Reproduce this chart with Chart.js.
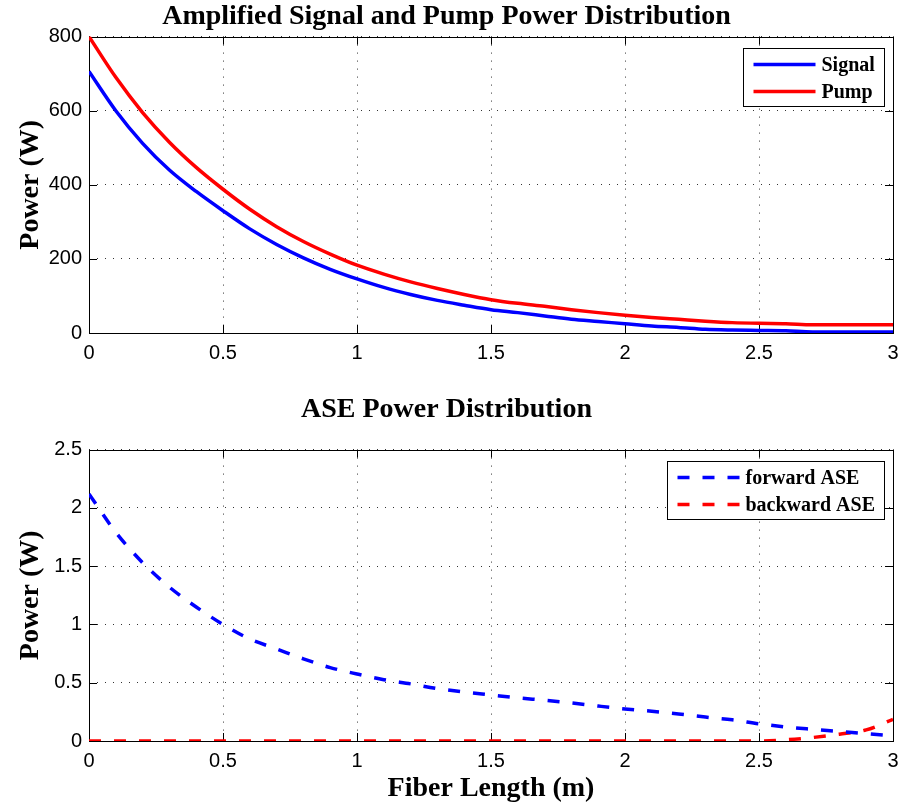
<!DOCTYPE html>
<html>
<head>
<meta charset="utf-8">
<script src="https://cdn.jsdelivr.net/npm/chart.js@4"></script>
<style>
  body { margin: 0; background: #fff; }
  canvas { display: block; }
</style>
</head>
<body>
<div id="content"></div>
<script>
// fiber position along the amplifier (m)
const fiberLength = [0, 0.1, 0.2, 0.3, 0.4, 0.5, 0.6, 0.7, 0.8, 0.9, 1.0,
  1.1, 1.2, 1.3, 1.4, 1.5, 1.6, 1.7, 1.8, 1.9, 2.0,
  2.1, 2.2, 2.3, 2.4, 2.5, 2.6, 2.7, 2.8, 2.9, 3.0];

// top plot (W)
const signalPower = [706, 600, 512, 440, 382, 330, 281, 239, 203, 172, 146,
  123, 104, 88, 75, 63, 55, 46, 37, 31, 25,
  19, 15, 10, 8, 7, 6, 3, 3, 3, 3];
const pumpPower = [800, 690, 595, 515, 447, 388, 334, 287, 247, 213, 183,
  159, 138, 120, 104, 90, 80, 72, 63, 55, 48,
  42, 37, 32, 28, 26, 25, 22, 22, 22, 22];

// bottom plot (W)
const forwardAse = [2.12, 1.79, 1.53, 1.32, 1.15, 1.0, 0.875, 0.79, 0.705, 0.63, 0.575,
  0.526, 0.49, 0.45, 0.42, 0.395, 0.37, 0.35, 0.327, 0.3, 0.275,
  0.255, 0.232, 0.205, 0.182, 0.148, 0.12, 0.1, 0.082, 0.063, 0.045];
const backwardAse = [0, 0, 0, 0, 0, 0, 0, 0, 0, 0, 0,
  0, 0, 0, 0, 0, 0, 0, 0, 0, 0,
  0, 0, 0, 0, 0, 0.01, 0.03, 0.058, 0.095, 0.185];

const xTicks = [0, 0.5, 1, 1.5, 2, 2.5, 3];

const serif = "'Liberation Serif', 'Times New Roman', serif";
const sans = "'Liberation Sans', Arial, sans-serif";

const toPoints = (ys) => fiberLength.map((x, i) => ({ x: x, y: ys[i] }));

// box around the plot area with inward tick marks (matlab look)
const frameTicks = {
  id: "frameTicks",
  beforeDatasetsDraw(chart) {
    const { ctx, chartArea, scales } = chart;
    const { left, right, top, bottom } = chartArea;
    const len = 8;
    ctx.save();
    ctx.strokeStyle = "#000";
    ctx.lineWidth = 1;
    ctx.beginPath();
    scales.x.ticks.forEach((t) => {
      const px = Math.round(scales.x.getPixelForValue(t.value)) + 0.5;
      ctx.moveTo(px, bottom);
      ctx.lineTo(px, bottom - len);
      ctx.moveTo(px, top);
      ctx.lineTo(px, top + len);
    });
    scales.y.ticks.forEach((t) => {
      const py = Math.round(scales.y.getPixelForValue(t.value)) + 0.5;
      ctx.moveTo(left, py);
      ctx.lineTo(left + len, py);
      ctx.moveTo(right, py);
      ctx.lineTo(right - len, py);
    });
    ctx.stroke();
    ctx.strokeRect(Math.round(left) + 0.5, Math.round(top) + 0.5,
      Math.round(right - left), Math.round(bottom - top));
    ctx.restore();
  },
};

// legend box in the upper right corner of the plot
const boxLegend = {
  id: "boxLegend",
  afterDraw(chart) {
    const { ctx, chartArea } = chart;
    const sets = chart.data.datasets;
    ctx.save();
    ctx.font = "bold 20px " + serif;
    const textW = Math.max(...sets.map((d) => ctx.measureText(d.label).width));
    const sample = 62;
    const rowH = 27;
    const w = Math.round(10 + sample + 6 + textW + 10);
    const h = rowH * sets.length + 4;
    const x0 = Math.round(chartArea.right - 9 - w) + 0.5;
    const y0 = Math.round(chartArea.top + 11) + 0.5;
    ctx.fillStyle = "#fff";
    ctx.fillRect(x0, y0, w, h);
    ctx.strokeStyle = "#000";
    ctx.lineWidth = 1;
    ctx.strokeRect(x0, y0, w, h);
    sets.forEach((d, i) => {
      const cy = y0 + 16 + i * rowH;
      ctx.strokeStyle = d.borderColor;
      ctx.lineWidth = d.borderWidth;
      ctx.setLineDash(d.borderDash || []);
      ctx.beginPath();
      ctx.moveTo(x0 + 10, cy);
      ctx.lineTo(x0 + 10 + sample, cy);
      ctx.stroke();
      ctx.setLineDash([]);
      ctx.fillStyle = "#000";
      ctx.textBaseline = "middle";
      ctx.textAlign = "left";
      ctx.fillText(d.label, x0 + 10 + sample + 6, cy + 1);
    });
    ctx.restore();
  },
};

const makeChart = (canvas, cfg) => {
  const xScale = {
    type: "linear",
    min: 0,
    max: 3,
    afterBuildTicks: (s) => { s.ticks = xTicks.map((v) => ({ value: v })); },
    afterFit: (s) => {
      s.height = cfg.xHeight;
      // keep the plot box edges where the reference has them
      s.paddingLeft = 0;
      s.paddingRight = 0;
    },
    ticks: {
      color: "#000",
      font: { family: sans, size: 20 },
      padding: 8,
      maxRotation: 0,
      callback: (v) => String(v),
    },
    grid: { color: "#333", lineWidth: 1, drawTicks: false },
    border: { display: false, dash: [1, 7] },
    title: {
      display: !!cfg.xTitle,
      text: cfg.xTitle || "",
      color: "#000",
      font: { family: serif, size: 28, weight: "bold" },
      padding: { top: 0, bottom: 2 },
    },
  };
  const yScale = {
    type: "linear",
    min: cfg.yMin,
    max: cfg.yMax,
    afterBuildTicks: (s) => { s.ticks = cfg.yTicks.map((v) => ({ value: v })); },
    afterFit: (s) => { s.width = 89; },
    ticks: {
      color: "#000",
      font: { family: sans, size: 20 },
      padding: 7,
      callback: (v) => String(v),
    },
    grid: { color: "#333", lineWidth: 1, drawTicks: false },
    border: { display: false, dash: [1, 7] },
    title: {
      display: true,
      text: "Power (W)",
      color: "#000",
      font: { family: serif, size: 28, weight: "bold" },
      padding: { top: 14, bottom: 0 },
    },
  };

  return new Chart(canvas, {
    type: "line",
    data: { datasets: cfg.datasets },
    options: {
      responsive: false,
      animation: false,
      devicePixelRatio: 1,
      layout: { padding: { left: 0, right: 9, top: 0, bottom: 0 } },
      elements: { point: { radius: 0 }, line: { cubicInterpolationMode: "monotone" } },
      scales: { x: xScale, y: yScale },
      plugins: {
        legend: { display: false },
        tooltip: { enabled: false },
        title: {
          display: true,
          text: cfg.title,
          color: "#000",
          font: { family: serif, size: 28, weight: "bold" },
          padding: cfg.titlePadding,
        },
      },
    },
    plugins: [frameTicks, boxLegend],
  });
};

const content = document.getElementById("content");

const canvasTop = document.createElement("canvas");
canvasTop.width = 902;
canvasTop.height = 390;
const canvasBottom = document.createElement("canvas");
canvasBottom.width = 902;
canvasBottom.height = 418;
content.appendChild(canvasTop);
content.appendChild(canvasBottom);

makeChart(canvasTop, {
  title: "Amplified Signal and Pump Power Distribution",
  titlePadding: { top: 0, bottom: 3 },
  xHeight: 57,
  yMin: 0,
  yMax: 800,
  yTicks: [0, 200, 400, 600, 800],
  datasets: [
    { label: "Signal", data: toPoints(signalPower), borderColor: "#0000ff", borderWidth: 3.5 },
    { label: "Pump", data: toPoints(pumpPower), borderColor: "#ff0000", borderWidth: 3.5 },
  ],
});

makeChart(canvasBottom, {
  title: "ASE Power Distribution",
  titlePadding: { top: 3, bottom: 23 },
  xHeight: 67,
  xTitle: "Fiber Length (m)",
  yMin: 0,
  yMax: 2.5,
  yTicks: [0, 0.5, 1, 1.5, 2, 2.5],
  datasets: [
    { label: "forward ASE", data: toPoints(forwardAse), borderColor: "#0000ff", borderWidth: 3.5, borderDash: [12, 13] },
    { label: "backward ASE", data: toPoints(backwardAse), borderColor: "#ff0000", borderWidth: 3.5, borderDash: [12, 13] },
  ],
});
</script>
</body>
</html>
